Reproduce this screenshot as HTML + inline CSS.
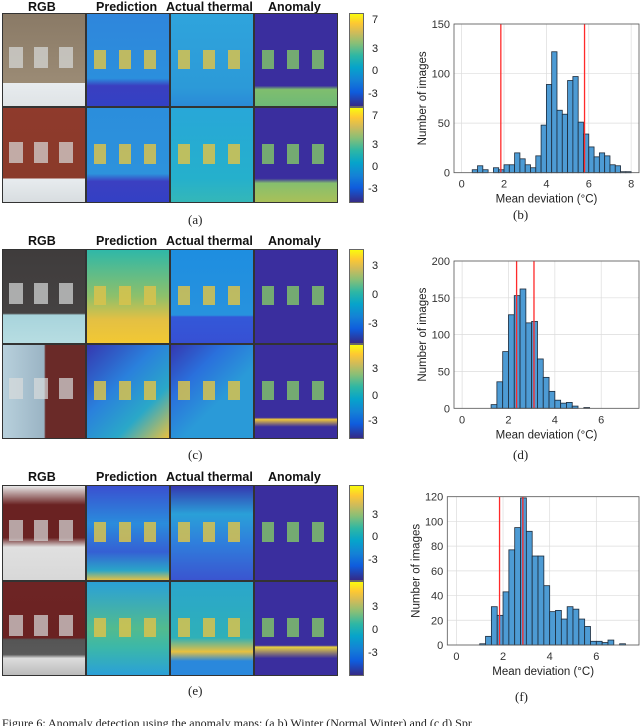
<!DOCTYPE html>
<html><head><meta charset="utf-8">
<style>
body{margin:0;background:#fff;}
#root{position:relative;width:640px;height:726px;overflow:hidden;background:#fff;font-family:"Liberation Sans",sans-serif;}
.t{position:absolute;font-weight:bold;font-size:12.5px;color:#111;white-space:nowrap;}
.p{position:absolute;overflow:hidden;box-sizing:border-box;border:1px solid #333;}
.cb{position:absolute;box-sizing:border-box;border:1px solid #666;background:linear-gradient(to top,#352a87,#0f5cdd 15%,#1481d6 28%,#06a4ca 42%,#2eb7a4 55%,#87bf77 68%,#d1bb59 80%,#fec832 90%,#f9fb0e);}
.cl{position:absolute;font-size:11px;color:#222;}
.sub{position:absolute;font-family:"Liberation Serif",serif;font-size:13px;color:#222;}
.r{position:absolute;}
</style></head><body>
<div id="root">
<svg id="hist" width="640" height="726" style="position:absolute;left:0;top:0"></svg>
</div>
<script>
// ---------- histogram data ----------
const binsB = [0.5,0.75,1,1.25,1.5,1.75,2,2.25,2.5,2.75,3,3.25,3.5,3.75,4,4.25,4.5,4.75,5,5.25,5.5,5.75,6,6.25,6.5,6.75,7,7.25,7.5,7.75];
const countsB = [3,7,3,0,5,3,8,8,20,14,8,5,17,48,89,122,63,59,93,97,51,39,26,16,20,17,8,7,1,1];
const redB = [1.85,5.8];
const yTicksB = [0,50,100,150];
const xTicksB = [0,2,4,6,8];

const binsD = [1.25,1.5,1.75,2,2.25,2.5,2.75,3,3.25,3.5,3.75,4,4.25,4.5,4.75,5,5.25];
const countsD = [5,36,77,127,153,162,116,118,67,42,23,11,7,8,3,0,1];
const redD = [2.35,3.1];
const yTicksD = [0,50,100,150,200];
const xTicksD = [0,2,4,6];

const binsF = [1,1.25,1.5,1.75,2,2.25,2.5,2.75,3,3.25,3.5,3.75,4,4.25,4.5,4.75,5,5.25,5.5,5.75,6,6.25,6.5,6.75,7];
const countsF = [1,7,31,24,43,77,95,119,92,72,72,48,27,28,21,31,29,21,15,3,3,2,4,0,1];
const redF = [1.85,2.85];
const yTicksF = [0,20,40,60,80,100,120];
const xTicksF = [0,2,4,6];

const NS="http://www.w3.org/2000/svg";
const svg=document.getElementById('hist');
function mk(tag,attrs,parent){const e=document.createElementNS(NS,tag);for(const k in attrs)e.setAttribute(k,attrs[k]);(parent||svg).appendChild(e);return e;}

function drawHist(id,box,xr,ymax,bins,counts,reds,yt,xt){
  const g=mk('g',{});
  
  
  const X=v=>box.l+(v-xr[0])/(xr[1]-xr[0])*(box.r-box.l);
  const Y=v=>box.b-v/ymax*(box.b-box.t);
  mk('rect',{x:box.l,y:box.t,width:box.r-box.l,height:box.b-box.t,fill:'#fff',stroke:'none'},g);
  yt.forEach(v=>{const l=mk('line',{x1:box.l,x2:box.r,y1:Y(v),y2:Y(v),stroke:'#dcdcdc','stroke-width':0.7},g);
    
    const t=mk('text',{x:box.l-4,y:Y(v)+4,'text-anchor':'end','font-size':'11','font-family':'Liberation Sans, sans-serif',fill:'#333'},g);t.textContent=v;
    });
  xt.forEach(v=>{const l=mk('line',{x1:X(v),x2:X(v),y1:box.t,y2:box.b,stroke:'#dcdcdc','stroke-width':0.7},g);
    
    const t=mk('text',{x:X(v),y:box.b+15,'text-anchor':'middle','font-size':'11','font-family':'Liberation Sans, sans-serif',fill:'#333'},g);t.textContent=v;
    });
  bins.forEach((b,i)=>{const c=counts[i];const r=mk('rect',{x:X(b),y:Y(c),width:X(b+0.25)-X(b),height:Y(0)-Y(c),fill:'#4d9bd4',stroke:'#1c2a3a','stroke-width':0.8},g);
    });
  reds.forEach(v=>{const l=mk('line',{x1:X(v),x2:X(v),y1:box.t,y2:box.b,stroke:'#ff2a2a','stroke-width':1.3},g);
    });
  mk('rect',{x:box.l,y:box.t,width:box.r-box.l,height:box.b-box.t,fill:'none',stroke:'#555','stroke-width':0.8},g);
  const xl=mk('text',{x:(box.l+box.r)/2,y:box.b+30,'text-anchor':'middle','font-size':'11.5','font-family':'Liberation Sans, sans-serif',fill:'#222'},g);
  xl.textContent='Mean deviation (°C)';
  const cy=(box.t+box.b)/2, cx=box.l-28;
  const yl=mk('text',{x:cx,y:cy,'text-anchor':'middle','font-size':'11.5','font-family':'Liberation Sans, sans-serif',fill:'#222',transform:'rotate(-90 '+cx+' '+cy+')'},g);
  yl.textContent='Number of images';
}
drawHist('b',{l:454,r:639,t:24,b:172.7},[-0.36,8.37],150,binsB,countsB,redB,yTicksB,xTicksB);
drawHist('d',{l:454,r:639,t:261,b:408.3},[-0.35,7.63],200,binsD,countsD,redD,yTicksD,xTicksD);
drawHist('f',{l:447.3,r:639,t:496.7,b:645},[-0.39,7.83],120,binsF,countsF,redF,yTicksF,xTicksF);

// ---------- image panels ----------
const root=document.getElementById('root');
function div(cls,style,parent,name,text){const d=document.createElement('div');d.className=cls;d.setAttribute('style',style);
  
  
  if(text!==undefined)d.textContent=text;(parent||root).appendChild(d);return d;}
const colX=[2,86,170,254], W=84;
const titles=[['RGB',28],['Prediction',96],['Actual thermal',166],['Anomaly',268]];
const groups=[
 {ty:0,rows:[[13,107],[107,203]],cb:[13,203],labels:[['7',21],['3',50],['0',72],['-3',95],['7',117],['3',146],['0',168],['-3',190]],sub:['(a)',220]},
 {ty:234,rows:[[249,344],[344,439]],cb:[249,439],labels:[['3',267],['0',296],['-3',325],['3',370],['0',397],['-3',422]],sub:['(c)',455]},
 {ty:470,rows:[[485,581],[581,676]],cb:[485,676],labels:[['3',516],['0',538],['-3',561],['3',608],['0',631],['-3',654]],sub:['(e)',691]}
];
const fills=[
 [['linear-gradient(#8a7a66 0%,#9b8b75 75%,#e8ecef 75%,#dfe3e6)','linear-gradient(#2f86dc 0%,#2b8fdd 70%,#3a3fc0 78%,#3340c4)','linear-gradient(#2fa4dc,#2c9ad8 80%,#2a8ad8)','linear-gradient(#3a2e9e 0%,#3a2e9e 78%,#7fbe6e 82%,#6eb977)'],
  ['linear-gradient(#8f3a2c 0%,#8a3a2a 75%,#e8ecef 75%,#d8dde0)','linear-gradient(#2b8edc 0%,#2d92dc 70%,#3b40c2 78%,#3340c4)','linear-gradient(#28a7d8,#25b0cc 75%,#34b7b8)','linear-gradient(#3a2e9e 0%,#3a2e9e 75%,#86bf6e 80%,#a9c058)']],
 [['linear-gradient(#3f3c3c 0%,#454242 68%,#a8d4dc 70%,#b7dde2)','linear-gradient(#2fb8a8,#8ec06a 50%,#e4c043 75%,#f2c833)','linear-gradient(#1e8ee0 0%,#2792de 70%,#3458d8 72%,#3650d4)','linear-gradient(#3a2e9e,#3a2e9e)'],
  ['linear-gradient(90deg,#b8d0dc 0%,#9ab4c4 50%,#6a2a28 52%,#6a2a28)','linear-gradient(135deg,#3538b0,#2a80dc 40%,#2aa8c8 70%,#e8c040)','linear-gradient(135deg,#3538b0 0%,#2a70dc 30%,#2a9ad8 60%,#2a9ad8)','linear-gradient(#3a2e9e 0%,#3a2e9e 78%,#f0c83a 80%,#3a2e9e 88%)']],
 [['linear-gradient(#e8e8e8 0%,#6a2222 20%,#6a2222 55%,#e0e0e0 65%,#d8d8d8)','linear-gradient(#3a50d0,#2a8cdc 40%,#3560d4 70%,#2aa6c8 90%,#e2c046)','linear-gradient(#3538b0 0%,#2aa0d8 30%,#2f7fdc 60%,#3a55d0)','linear-gradient(#3a2e9e,#3a2e9e)'],
  ['linear-gradient(#6e2424 0%,#6a2222 60%,#555 62%,#5a5a5a 78%,#ddd 82%,#bbb)','linear-gradient(#2aa0d8,#52bb8e 50%,#3cb8a8 70%,#2aa0d8)','linear-gradient(#2aa6cc 0%,#2fb0b8 60%,#e8c040 75%,#2a88dc 85%)','linear-gradient(#3a2e9e 0%,#3a2e9e 68%,#e8d040 70%,#3a2e9e 82%)']]
];
groups.forEach((G,gi)=>{
  titles.forEach(t=>div('t','left:'+t[1]+'px;top:'+G.ty+'px',root,'column-title',t[0]));
  G.rows.forEach((r,ri)=>{
    colX.forEach((x,ci)=>{
      const names=['rgb-image','prediction-map','thermal-map','anomaly-map'];
      const p=div('p','left:'+x+'px;top:'+r[0]+'px;width:'+W+'px;height:'+(r[1]-r[0])+'px;background:'+fills[gi][ri][ci],root,names[ci]);
      if(ci>0){const wc=ci==3?'#7fc06a':'#d8c24c';
        [0.15,0.45,0.75].forEach(f=>div('r','left:'+(f*W-6)+'px;top:'+((r[1]-r[0])*0.38)+'px;width:12px;height:'+((r[1]-r[0])*0.2)+'px;background:'+wc+';opacity:0.85',p,'window-hotspot'));}
      else{[0.15,0.45,0.75].forEach(f=>div('r','left:'+(f*W-7)+'px;top:'+((r[1]-r[0])*0.35)+'px;width:14px;height:'+((r[1]-r[0])*0.22)+'px;background:#d8dcdc;opacity:0.7',p,'window'));}
    });
  });
  div('cb','left:349px;top:'+G.rows[0][0]+'px;width:15px;height:'+(G.rows[0][1]-G.rows[0][0])+'px',root,'colorbar-top');
  div('cb','left:349px;top:'+G.rows[1][0]+'px;width:15px;height:'+(G.rows[1][1]-G.rows[1][0])+'px',root,'colorbar-bottom');
  G.labels.forEach(l=>div('cl','left:'+(l[0][0]=='-'?368:372)+'px;top:'+(l[1]-7)+'px',root,'colorbar-label',l[0]));
  div('sub','left:188px;top:'+(G.sub[1]-8)+'px',root,'subfigure-label',G.sub[0]);
});
div('sub','left:513px;top:207px',root,'subfigure-label','(b)');
div('sub','left:513px;top:447px',root,'subfigure-label','(d)');
div('sub','left:515px;top:689px',root,'subfigure-label','(f)');
div('sub','left:2px;top:716px;font-size:12px;white-space:nowrap',root,'caption','Figure 6: Anomaly detection using the anomaly maps: (a,b) Winter (Normal Winter) and (c,d) Spr');
</script>
</body></html>
